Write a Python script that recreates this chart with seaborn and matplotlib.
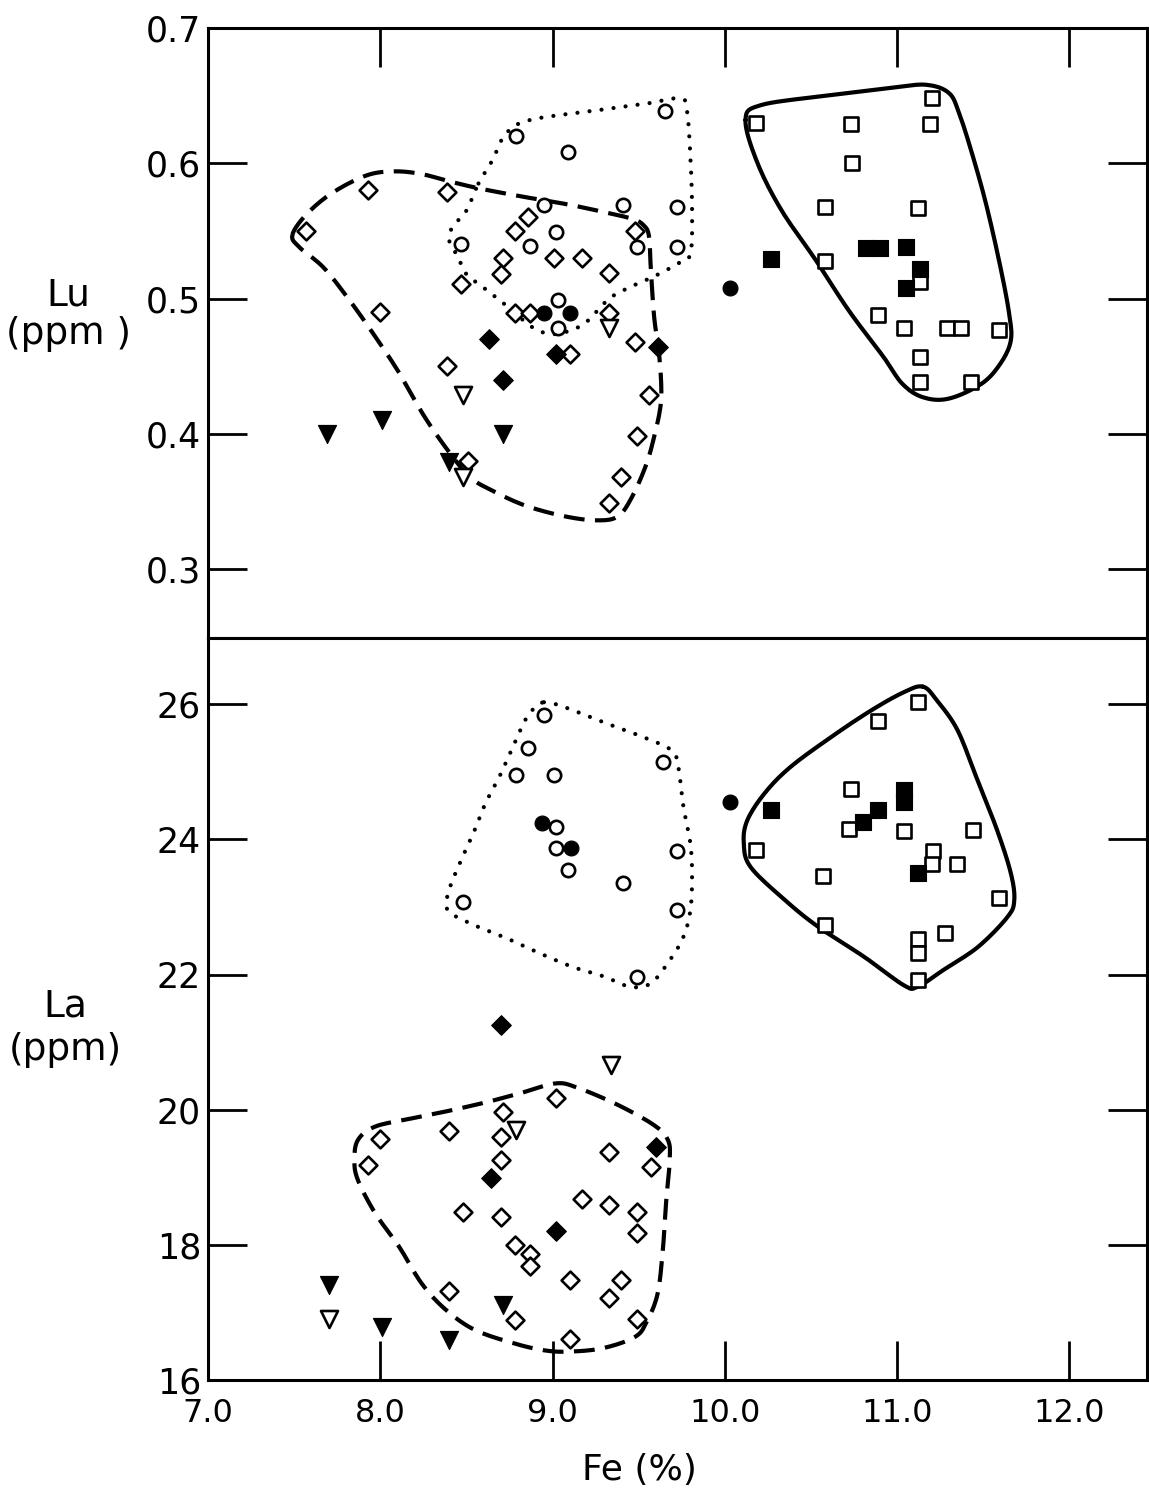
import numpy as np
import matplotlib
matplotlib.use("Agg")
import matplotlib.pyplot as plt
import seaborn as sns

# ---------------- Lu panel (top) ----------------
lu_open_diamond_fe = [7.93, 8.39, 7.57, 8.86, 8.78, 9.48, 8.71, 8.70, 9.01, 9.17, 9.33, 8.47,
                      8.00, 8.78, 8.87, 9.33, 9.48, 9.10, 8.39, 9.56, 9.49, 8.51, 9.40, 9.33]
lu_open_diamond_val = [0.580, 0.579, 0.550, 0.560, 0.550, 0.550, 0.530, 0.518, 0.530, 0.530, 0.519, 0.511,
                       0.490, 0.489, 0.489, 0.489, 0.468, 0.459, 0.450, 0.429, 0.398, 0.380, 0.368, 0.349]
lu_filled_diamond_fe = [8.63, 8.71, 9.02, 9.61]
lu_filled_diamond_val = [0.470, 0.440, 0.459, 0.464]
lu_open_circle_fe = [9.65, 8.79, 9.09, 8.95, 9.41, 9.72, 9.02, 8.87, 8.47, 9.49, 9.72, 9.03, 9.03]
lu_open_circle_val = [0.639, 0.620, 0.608, 0.569, 0.569, 0.568, 0.549, 0.539, 0.540, 0.538, 0.538, 0.499, 0.478]
lu_filled_circle_fe = [8.95, 9.10, 10.03]
lu_filled_circle_val = [0.489, 0.489, 0.508]
lu_open_tri_fe = [8.48, 9.33, 8.48]
lu_open_tri_val = [0.429, 0.478, 0.368]
lu_filled_tri_fe = [7.69, 8.01, 8.71, 8.40]
lu_filled_tri_val = [0.400, 0.410, 0.400, 0.379]
lu_open_square_fe = [10.18, 10.73, 11.20, 11.19, 10.74, 10.58, 11.12, 10.58, 11.13, 10.89,
                     11.04, 11.29, 11.37, 11.59, 11.13, 11.13, 11.43]
lu_open_square_val = [0.630, 0.629, 0.648, 0.629, 0.600, 0.568, 0.567, 0.528, 0.512, 0.488,
                      0.478, 0.478, 0.478, 0.477, 0.457, 0.438, 0.438]
lu_filled_square_fe = [10.27, 10.82, 10.90, 11.05, 11.13, 11.05]
lu_filled_square_val = [0.529, 0.537, 0.537, 0.538, 0.522, 0.508]

# envelopes (hand-drawn outlines), Lu panel
lu_dashed_fe = [7.49, 7.57, 7.72, 7.92, 8.08, 8.24, 8.42, 8.59, 8.84, 9.07, 9.26, 9.46, 9.53, 9.56,
                9.57, 9.59, 9.62, 9.63, 9.59, 9.54, 9.46, 9.38, 9.26, 9.07, 8.84, 8.65, 8.53, 8.42,
                8.26, 8.11, 7.97, 7.82, 7.67, 7.53]
lu_dashed_val = [0.547, 0.562, 0.578, 0.591, 0.594, 0.592, 0.586, 0.581, 0.575, 0.570, 0.565, 0.559,
                 0.554, 0.546, 0.523, 0.486, 0.457, 0.425, 0.398, 0.376, 0.353, 0.339, 0.336, 0.339,
                 0.347, 0.358, 0.367, 0.383, 0.412, 0.445, 0.472, 0.499, 0.523, 0.538]
lu_dotted_fe = [8.57, 8.65, 8.73, 8.87, 9.25, 9.54, 9.74, 9.78, 9.80, 9.81, 9.80, 9.73, 9.60, 9.46,
                9.33, 9.19, 9.07, 8.98, 8.88, 8.72, 8.59, 8.50, 8.45, 8.40, 8.42, 8.50]
lu_dotted_val = [0.585, 0.602, 0.622, 0.632, 0.639, 0.644, 0.648, 0.639, 0.605, 0.565, 0.533, 0.526,
                 0.517, 0.509, 0.500, 0.482, 0.475, 0.474, 0.479, 0.496, 0.509, 0.518, 0.531, 0.543,
                 0.553, 0.565]
lu_solid_fe = [10.12, 10.21, 10.59, 10.98, 11.17, 11.30, 11.36, 11.44, 11.52, 11.60, 11.65, 11.66,
               11.60, 11.49, 11.30, 11.15, 11.03, 10.92, 10.72, 10.53, 10.33, 10.19]
lu_solid_val = [0.632, 0.643, 0.650, 0.656, 0.658, 0.652, 0.637, 0.605, 0.568, 0.523, 0.489, 0.469,
                0.452, 0.437, 0.426, 0.427, 0.437, 0.457, 0.491, 0.528, 0.565, 0.600]

# ---------------- La panel (bottom) ----------------
la_open_diamond_fe = [9.02, 8.71, 8.40, 8.70, 8.00, 8.70, 7.93, 9.33, 9.57, 9.17, 9.33, 9.49, 9.49,
                      8.48, 8.70, 8.78, 8.87, 8.87, 9.10, 9.40, 9.33, 8.40, 8.78, 9.49, 9.10]
la_open_diamond_val = [20.17, 19.97, 19.69, 19.60, 19.56, 19.25, 19.18, 19.38, 19.15, 18.68, 18.59,
                       18.49, 18.17, 18.48, 18.41, 18.00, 17.87, 17.68, 17.48, 17.48, 17.21, 17.31,
                       16.89, 16.90, 16.60]
la_filled_diamond_fe = [8.70, 8.64, 9.02, 9.60]
la_filled_diamond_val = [21.25, 18.99, 18.20, 19.45]
la_open_circle_fe = [8.95, 8.86, 8.79, 9.01, 9.02, 9.02, 9.09, 9.41, 9.64, 9.72, 9.72, 9.49, 8.48]
la_open_circle_val = [25.84, 25.35, 24.96, 24.96, 24.18, 23.87, 23.55, 23.35, 25.15, 23.83, 22.95,
                      21.97, 23.08]
la_filled_circle_fe = [8.94, 9.11, 10.03]
la_filled_circle_val = [24.24, 23.88, 24.55]
la_open_tri_fe = [9.34, 8.79, 7.70]
la_open_tri_val = [20.66, 19.70, 16.90]
la_filled_tri_fe = [7.70, 8.01, 8.40, 8.71]
la_filled_tri_val = [17.41, 16.79, 16.59, 17.11]
la_open_square_fe = [11.12, 10.89, 10.73, 10.72, 11.04, 11.44, 10.18, 11.21, 11.20, 11.35, 10.57,
                     11.59, 10.58, 11.28, 11.12, 11.12, 11.12]
la_open_square_val = [26.03, 25.75, 24.75, 24.16, 24.13, 24.14, 23.85, 23.83, 23.64, 23.63, 23.46,
                      23.13, 22.73, 22.62, 22.53, 22.32, 21.92]
la_filled_square_fe = [10.27, 10.80, 10.89, 11.04, 11.04, 11.12]
la_filled_square_val = [24.44, 24.26, 24.43, 24.73, 24.55, 23.51]

la_dotted_fe = [8.95, 9.02, 9.13, 9.32, 9.52, 9.69, 9.73, 9.76, 9.80, 9.81, 9.80, 9.76, 9.68, 9.57,
                9.45, 9.30, 9.12, 8.93, 8.74, 8.52, 8.39, 8.40, 8.46, 8.54, 8.61, 8.69, 8.77, 8.84, 8.90]
la_dotted_val = [26.03, 26.00, 25.90, 25.71, 25.52, 25.32, 25.07, 24.48, 23.94, 23.45, 22.95, 22.56,
                 22.21, 21.87, 21.82, 21.97, 22.11, 22.31, 22.53, 22.76, 22.96, 23.25, 23.64, 24.09,
                 24.53, 24.92, 25.37, 25.76, 25.96]
la_solid_fe = [11.15, 11.23, 11.35, 11.46, 11.58, 11.66, 11.68, 11.64, 11.47, 11.27, 11.12, 11.04,
               10.81, 10.54, 10.35, 10.15, 10.11, 10.13, 10.23, 10.38, 10.62, 10.85, 11.04]
la_solid_val = [26.26, 26.06, 25.62, 24.92, 24.14, 23.50, 23.10, 22.85, 22.41, 22.07, 21.82, 21.84,
                22.26, 22.71, 23.10, 23.59, 23.94, 24.28, 24.68, 25.07, 25.52, 25.91, 26.18]
la_dashed_fe = [9.02, 9.15, 9.38, 9.59, 9.67, 9.68, 9.66, 9.64, 9.61, 9.55, 9.48, 9.29, 9.09, 8.95,
                8.78, 8.55, 8.38, 8.24, 8.11, 7.97, 7.87, 7.85, 7.87, 7.97, 8.18, 8.41, 8.63, 8.82]
la_dashed_val = [20.39, 20.32, 20.07, 19.77, 19.55, 19.25, 18.66, 17.92, 17.28, 16.88, 16.64, 16.47,
                 16.42, 16.44, 16.54, 16.74, 17.04, 17.43, 17.97, 18.47, 18.96, 19.25, 19.55, 19.75,
                 19.87, 19.99, 20.12, 20.25]

x_ticks = [7.0, 8.0, 9.0, 10.0, 11.0, 12.0]
x_tick_labels = ["7.0", "8.0", "9.0", "10.0", "11.0", "12.0"]
lu_ticks = [0.3, 0.4, 0.5, 0.6, 0.7]
lu_tick_labels = ["0.3", "0.4", "0.5", "0.6", "0.7"]
la_ticks = [16, 18, 20, 22, 24, 26]
la_tick_labels = ["16", "18", "20", "22", "24", "26"]

# ---------------- drawing ----------------
sns.set_style("white")
plt.rcParams['font.family'] = ['DejaVu Sans']
plt.rcParams['text.color'] = 'black'
plt.rcParams['axes.labelcolor'] = 'black'


def closed_curve(xs, ys, n=10):
    """Smooth closed outline through the traced vertices (Catmull-Rom)."""
    P = np.column_stack([xs, ys]).astype(float)
    N = len(P)
    t = np.linspace(0, 1, n, endpoint=False)[:, None]
    segs = []
    for i in range(N):
        p0, p1, p2, p3 = P[(i - 1) % N], P[i], P[(i + 1) % N], P[(i + 2) % N]
        segs.append(0.5 * (2 * p1 + (-p0 + p2) * t + (2 * p0 - 5 * p1 + 4 * p2 - p3) * t ** 2
                           + (-p0 + 3 * p1 - 3 * p2 + p3) * t ** 3))
    segs.append(P[:1])
    C = np.vstack(segs)
    return C[:, 0], C[:, 1]


def envelope(ax, xs, ys, kind):
    cx, cy = closed_curve(xs, ys)
    if kind == "solid":
        ax.plot(cx, cy, color="black", lw=3.0, solid_capstyle="round", zorder=2)
    elif kind == "dashed":
        ax.plot(cx, cy, color="black", lw=3.0, linestyle=(0, (5.0, 2.5)), zorder=2)
    else:
        ax.plot(cx, cy, color="black", lw=3.0, linestyle=(0, (0.01, 2.9)),
                dash_capstyle="round", zorder=2)


def points(ax, x, y, marker, filled, s):
    sns.scatterplot(x=x, y=y, ax=ax, marker=marker, s=s, color="black",
                    facecolor="black" if filled else "white", edgecolor="black",
                    linewidth=0.8 if filled else 1.9, zorder=3, legend=False)


fig = plt.figure(figsize=(11.49, 14.89), dpi=100)
ax1 = fig.add_axes([0.181, 0.5715, 0.8172, 0.4097])
ax2 = fig.add_axes([0.181, 0.0732, 0.8172, 0.4983])

marker_sizes = {"od": 82, "fd": 100, "oc": 92, "fc": 115, "ot": 150, "ft": 170, "os": 98, "fs": 125}

for ax, sets in (
    (ax1, [(lu_dashed_fe, lu_dashed_val, "dashed"), (lu_dotted_fe, lu_dotted_val, "dotted"),
           (lu_solid_fe, lu_solid_val, "solid")]),
    (ax2, [(la_dashed_fe, la_dashed_val, "dashed"), (la_dotted_fe, la_dotted_val, "dotted"),
           (la_solid_fe, la_solid_val, "solid")]),
):
    for xs, ys, kind in sets:
        envelope(ax, xs, ys, kind)

# Lu
points(ax1, lu_open_diamond_fe, lu_open_diamond_val, "D", False, marker_sizes["od"])
points(ax1, lu_filled_diamond_fe, lu_filled_diamond_val, "D", True, marker_sizes["fd"])
points(ax1, lu_open_circle_fe, lu_open_circle_val, "o", False, marker_sizes["oc"])
points(ax1, lu_filled_circle_fe, lu_filled_circle_val, "o", True, marker_sizes["fc"])
points(ax1, lu_open_tri_fe, lu_open_tri_val, "v", False, marker_sizes["ot"])
points(ax1, lu_filled_tri_fe, lu_filled_tri_val, "v", True, marker_sizes["ft"])
points(ax1, lu_open_square_fe, lu_open_square_val, "s", False, marker_sizes["os"])
points(ax1, lu_filled_square_fe, lu_filled_square_val, "s", True, marker_sizes["fs"])

# La
points(ax2, la_open_diamond_fe, la_open_diamond_val, "D", False, marker_sizes["od"])
points(ax2, la_filled_diamond_fe, la_filled_diamond_val, "D", True, marker_sizes["fd"])
points(ax2, la_open_circle_fe, la_open_circle_val, "o", False, marker_sizes["oc"])
points(ax2, la_filled_circle_fe, la_filled_circle_val, "o", True, marker_sizes["fc"])
points(ax2, la_open_tri_fe, la_open_tri_val, "v", False, marker_sizes["ot"])
points(ax2, la_filled_tri_fe, la_filled_tri_val, "v", True, marker_sizes["ft"])
points(ax2, la_open_square_fe, la_open_square_val, "s", False, marker_sizes["os"])
points(ax2, la_filled_square_fe, la_filled_square_val, "s", True, marker_sizes["fs"])

for ax in (ax1, ax2):
    ax.set_xlim(7.0, 12.45)
    ax.set_xticks(x_ticks)
    for sp in ax.spines.values():
        sp.set_visible(True)
        sp.set_linewidth(2.2)
        sp.set_color("black")
    ax.tick_params(axis="both", direction="in", length=28, width=2.0, color="black",
                   labelcolor="black")
    ax.set_facecolor("white")

ax1.set_ylim(0.249, 0.70)
ax1.set_yticks(lu_ticks)
ax1.set_yticklabels(lu_tick_labels)
ax1.set_xticklabels([])
ax1.tick_params(axis="x", top=True, bottom=False, labelbottom=False)
ax1.tick_params(axis="y", left=True, right=True, labelsize=25, pad=5)
ax1.set_xlabel("")
ax1.set_ylabel("Lu\n(ppm )", rotation=0, fontsize=27, ha="center", va="center",
               linespacing=1.1, color="black")
ax1.yaxis.set_label_coords(-0.149, 0.53)

ax2.set_ylim(16.0, 26.98)
ax2.set_yticks(la_ticks)
ax2.set_yticklabels(la_tick_labels)
ax2.set_xticklabels(x_tick_labels)
ax2.tick_params(axis="x", top=False, bottom=True, labelsize=23, pad=13)
ax2.tick_params(axis="y", left=True, right=True, labelsize=25, pad=5)
ax2.set_xlabel("Fe (%)", fontsize=26, color="black")
ax2.xaxis.set_label_coords(0.46, -0.121)
ax2.xaxis.label.set_va("center")
ax2.set_ylabel("La\n(ppm)", rotation=0, fontsize=27, ha="center", va="center",
               linespacing=1.25, color="black")
ax2.yaxis.set_label_coords(-0.152, 0.474)

fig.savefig("out.png", dpi=100, facecolor="white")
